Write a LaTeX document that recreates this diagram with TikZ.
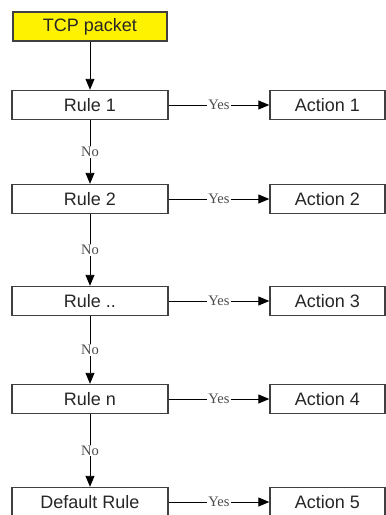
\documentclass[tikz,border=0pt]{standalone}
\usepackage{fontspec}
\setmainfont{Liberation Sans}
\newfontfamily\lblfont{Liberation Serif}
\usetikzlibrary{arrows.meta}
\begin{document}
\begin{tikzpicture}[x=1pt,y=-1pt,
  box/.style={draw=black!75,line width=1.4pt,fill=white,minimum height=29pt,inner sep=0pt,font=\fontsize{18}{18}\selectfont,text=black!85},
  rulebox/.style={box,minimum width=156pt},
  actbox/.style={box,minimum width=115pt},
  startbox/.style={box,minimum width=154pt,fill=yellow},
  conn/.style={draw=black,line width=0.9pt,-{Triangle[length=11pt,width=9pt]}},
  lbl/.style={fill=white,inner sep=1pt,font=\lblfont\fontsize{14.5}{14.5}\selectfont,text=black!70}]
\clip (0,0) rectangle (386,515);
\fill[white] (0,0) rectangle (386,515);
\node[startbox] (tcp) at (90,26.5) {TCP packet};
\node[rulebox] (r1) at (90,105) {Rule 1};
\node[rulebox] (r2) at (90,199) {Rule 2};
\node[rulebox] (r3) at (90,301) {Rule ..};
\node[rulebox] (r4) at (90,399) {Rule n};
\node[rulebox] (r5) at (90,502) {Default Rule};
\node[actbox] (a1) at (327.5,105) {Action 1};
\node[actbox] (a2) at (327.5,199) {Action 2};
\node[actbox] (a3) at (327.5,301) {Action 3};
\node[actbox] (a4) at (327.5,399) {Action 4};
\node[actbox] (a5) at (327.5,502) {Action 5};
\draw[conn] (tcp) -- (r1);
\draw[conn] (r1) -- node[lbl] {No} (r2);
\draw[conn] (r2) -- node[lbl] {No} (r3);
\draw[conn] (r3) -- node[lbl] {No} (r4);
\draw[conn] (r4) -- node[lbl] {No} (r5);
\draw[conn] (r1) -- node[lbl,pos=0.5] {Yes} (a1);
\draw[conn] (r2) -- node[lbl,pos=0.5] {Yes} (a2);
\draw[conn] (r3) -- node[lbl,pos=0.5] {Yes} (a3);
\draw[conn] (r4) -- node[lbl,pos=0.5] {Yes} (a4);
\draw[conn] (r5) -- node[lbl,pos=0.5] {Yes} (a5);
\end{tikzpicture}
\end{document}
